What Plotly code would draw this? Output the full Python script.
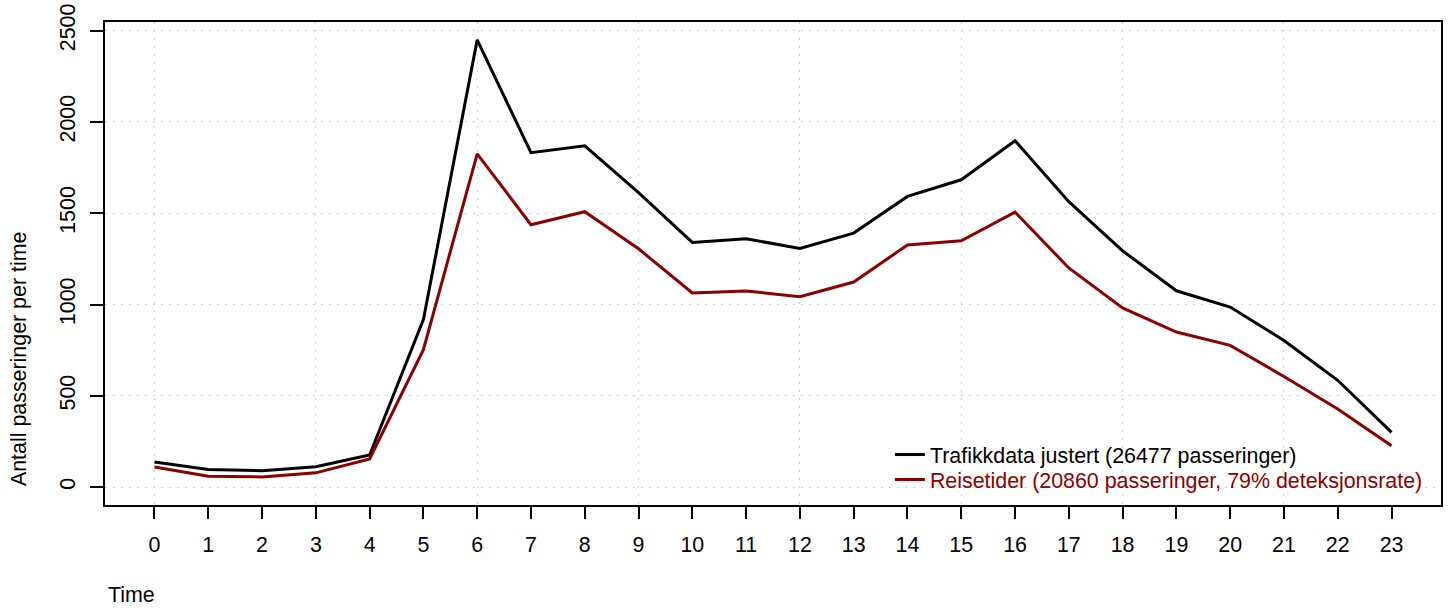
import plotly.graph_objects as go

hours = list(range(24))
trafikk = [138, 96, 90, 112, 176, 917, 2449, 1831, 1869, 1612, 1340, 1360, 1307, 1391,
           1592, 1683, 1897, 1563, 1294, 1075, 986, 803, 585, 300]
reise = [110, 59, 56, 78, 154, 753, 1825, 1437, 1508, 1305, 1063, 1074, 1043, 1123,
         1326, 1349, 1506, 1200, 981, 849, 776, 606, 428, 227]
name_trafikk = "Trafikkdata justert (26477 passeringer)"
name_reise = "Reisetider (20860 passeringer, 79% deteksjonsrate)"
ytick_vals = [0, 500, 1000, 1500, 2000, 2500]

FONT = "Liberation Sans, Arial, sans-serif"
FS = 21.4
RED = "#8B0000"

ymax = max(trafikk)
ypad = 0.04 * ymax
xpad = 0.04 * (max(hours) - min(hours))
xrange_ = [min(hours) - xpad, max(hours) + xpad]

fig = go.Figure()
fig.add_trace(go.Scatter(x=hours, y=trafikk, mode="lines", name=name_trafikk,
                         line=dict(color="black", width=3), legend="legend"))
fig.add_trace(go.Scatter(x=hours, y=reise, mode="lines",
                         name=f"<span style='color:{RED}'>{name_reise}</span>",
                         line=dict(color=RED, width=3), legend="legend2"))
# empty trace to carry the coarse vertical grid axis
fig.add_trace(go.Scatter(x=[], y=[], xaxis="x2", showlegend=False, hoverinfo="skip"))

leg_common = dict(xanchor="left", yanchor="middle", bgcolor="rgba(0,0,0,0)",
                  borderwidth=0, font=dict(family=FONT, size=FS, color="black"),
                  itemwidth=30)

fig.update_layout(
    width=1451, height=608,
    margin=dict(l=105, r=10, t=22, b=103, autoexpand=False),
    paper_bgcolor="white", plot_bgcolor="white",
    font=dict(family=FONT, size=FS, color="black"),
    showlegend=True,
    legend=dict(x=0.5875, y=0.1043, **leg_common),
    legend2=dict(x=0.5875, y=0.0526, **leg_common),
    xaxis=dict(range=xrange_, tickmode="array", tickvals=hours,
               ticktext=[str(h) for h in hours], automargin=False,
               showgrid=False, zeroline=False,
               showline=True, mirror=True, linecolor="black", linewidth=2,
               ticks="outside", ticklen=12, tickwidth=1.5, tickcolor="black",
               ticklabelstandoff=7,
               tickfont=dict(family=FONT, size=FS, color="black")),
    xaxis2=dict(range=xrange_, overlaying="x", tickmode="linear", automargin=False,
                tick0=0, dtick=3, showgrid=True, gridcolor="#D3D3D3", gridwidth=1,
                griddash="2px,6px", showticklabels=False, ticks="", zeroline=False,
                showline=False),
    yaxis=dict(range=[-ypad, ymax + ypad], tickmode="array", tickvals=ytick_vals,
               automargin=False,
               showgrid=True, gridcolor="#D3D3D3", gridwidth=1, griddash="2px,6px",
               zeroline=False,
               showline=True, mirror=True, linecolor="black", linewidth=2,
               ticks="outside", ticklen=13, tickwidth=1.5, tickcolor="black",
               tickangle=-90, ticklabelstandoff=6,
               tickfont=dict(family=FONT, size=FS, color="black")),
    annotations=[
        dict(text="Time", xref="paper", yref="paper", x=0.001, y=-0.186,
             xanchor="left", yanchor="middle", showarrow=False,
             font=dict(family=FONT, size=FS, color="black")),
        dict(text="Antall passeringer per time", xref="paper", yref="paper",
             x=-0.0648, y=0.036, xanchor="center", yanchor="bottom",
             textangle=-90, showarrow=False,
             font=dict(family=FONT, size=FS, color="black")),
    ],
)

fig.write_html("out.html", config={"displayModeBar": False},
               post_script="document.body.style.margin='0px';document.body.style.overflow='hidden';")
